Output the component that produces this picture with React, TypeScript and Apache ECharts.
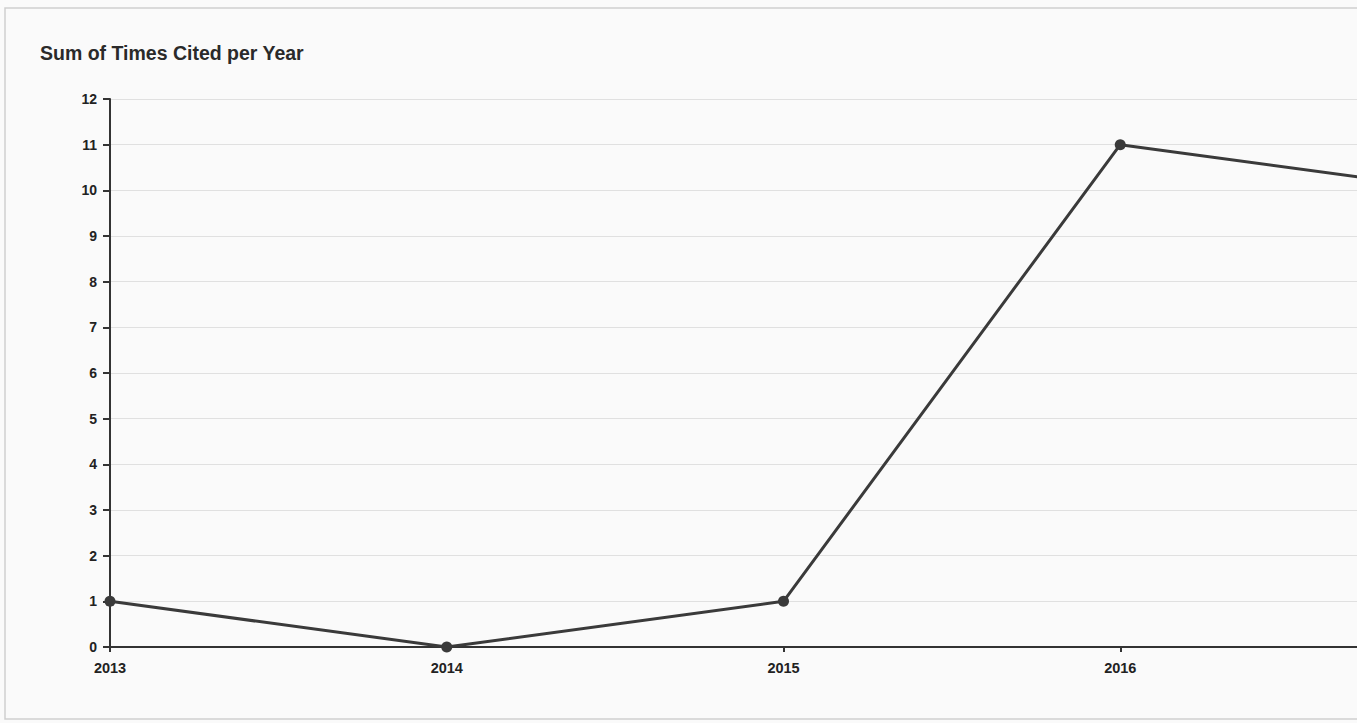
import React, { useEffect, useRef } from "react";
import * as echarts from "echarts";

const years = ["2013", "2014", "2015", "2016", "2017"];
const timesCited = [1, 0, 1, 11, 10];
const yTicks = { min: 0, max: 12, interval: 1 };
const titleText = "Sum of Times Cited per Year";

export default function App() {
  const ref = useRef<HTMLDivElement>(null);
  useEffect(() => {
    document.body.style.margin = "0";
    const chart = echarts.init(ref.current!, null, { renderer: "svg" });
    chart.setOption({
      animation: false,
      backgroundColor: "#fafafa",
      textStyle: { fontFamily: "Liberation Sans, Arial, sans-serif" },
      title: {
        text: titleText,
        left: 35,
        top: 38,
        textStyle: { fontSize: 19.5, fontWeight: "bold", color: "#2a2a2a" },
      },
      graphic: [
        {
          type: "rect",
          shape: { x: 5, y: 8, width: 1700, height: 711 },
          style: { fill: "none", stroke: "#cfcfcf", lineWidth: 1.5 },
          silent: true,
        },
      ],
      grid: { left: 110, top: 99, bottom: 76, width: 1347 },
      xAxis: {
        type: "category",
        data: years,
        boundaryGap: false,
        axisLine: { lineStyle: { color: "#333", width: 2 } },
        axisTick: { show: true, length: 5, lineStyle: { color: "#333", width: 2 } },
        axisLabel: {
          color: "#222",
          fontSize: 14.5,
          fontWeight: "bold",
          margin: 13,
          interval: (i: number) => i < years.length - 1,
        },
        splitLine: { show: false },
      },
      yAxis: {
        type: "value",
        min: yTicks.min,
        max: yTicks.max,
        interval: yTicks.interval,
        axisLine: { show: true, lineStyle: { color: "#333", width: 2 } },
        axisTick: { show: true, length: 7, lineStyle: { color: "#333", width: 2 } },
        axisLabel: { color: "#222", fontSize: 14, fontWeight: "bold", margin: 13 },
        splitLine: { show: true, lineStyle: { color: "#e0e0e0", width: 1 } },
      },
      series: [
        {
          type: "line",
          data: timesCited,
          symbol: "circle",
          symbolSize: 11,
          itemStyle: { color: "#3a3a3a" },
          lineStyle: { color: "#3a3a3a", width: 3 },
        },
      ],
    });
    return () => chart.dispose();
  }, []);
  return (
    <div style={{ position: "fixed", left: 0, top: 0, width: 1357, height: 723, overflow: "hidden" }}>
      <div ref={ref} style={{ width: 1800, height: 723 }} />
    </div>
  );
}
